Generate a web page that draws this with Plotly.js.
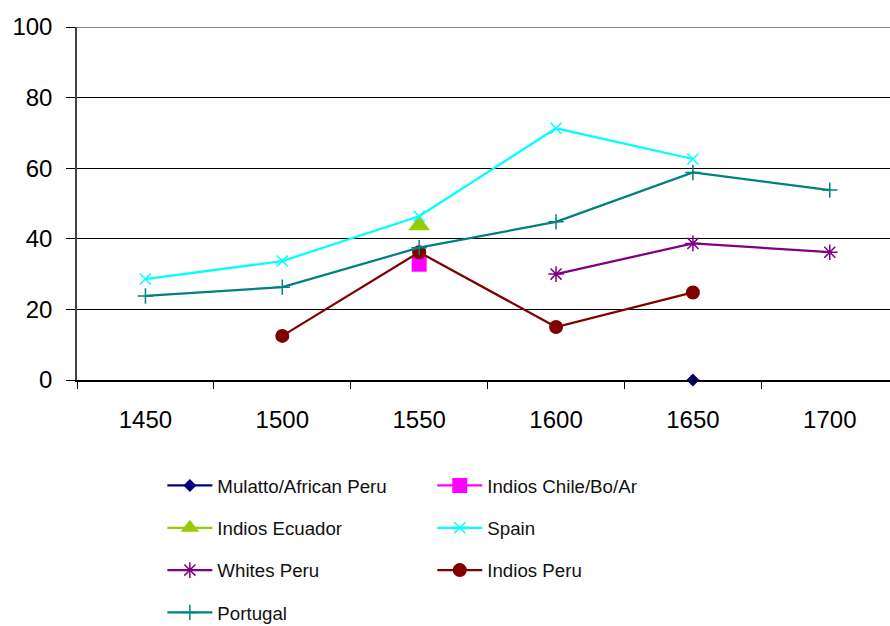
<!DOCTYPE html>
<html>
<head>
<meta charset="utf-8">
<script src="https://cdn.plot.ly/plotly-3.0.1.min.js"></script>
<style>html,body{margin:0;padding:0;overflow:hidden;background:#fff}</style>
</head>
<body>
<div id="chart" style="width:890px;height:626px"></div>
<script>
var years = ['1450', '1500', '1550', '1600', '1650', '1700'];
var mulattoPeru   = [null, null, null, null, 0, null];
var indiosChile   = [null, null, 32.8, null, null, null];
var indiosEcuador = [null, null, 43.8, null, null, null];
var spain         = [28.6, 33.7, 46.4, 71.3, 62.6, null];
var whitesPeru    = [null, null, null, 30.0, 38.7, 36.2];
var indiosPeru    = [null, 12.5, 36.2, 15.0, 24.8, null];
var portugal      = [23.8, 26.3, 37.5, 44.8, 58.8, 53.8];

function tr(name, y, color, symbol, size, legend, lw) {
  return {
    type: 'scatter', mode: 'lines+markers', x: years, y: y, name: name,
    legend: legend, legendgroup: name, cliponaxis: false,
    line: {color: color, width: 2.25},
    marker: {color: color, symbol: symbol, size: size, line: {color: color, width: lw || 0}},
    connectgaps: false, hoverinfo: 'x+y+name'
  };
}

var data = [
  tr('Mulatto/African Peru', mulattoPeru, '#000080', 'diamond', 10, 'legend'),
  tr('Indios Chile/Bo/Ar', indiosChile, '#FF00FF', 'square', 15, 'legend2'),
  tr('Indios Ecuador', indiosEcuador, '#99CC00', 'triangle-up', 19, 'legend'),
  tr('Spain', spain, '#00FFFF', 'x-thin-open', 11, 'legend2', 1.5),
  tr('Whites Peru', whitesPeru, '#800080', 'asterisk-open', 13, 'legend', 1.5),
  tr('Indios Peru', indiosPeru, '#800000', 'circle', 14, 'legend2'),
  tr('Portugal', portugal, '#008080', 'cross-thin-open', 11, 'legend', 1.5)
];

var legendFont = {family: 'Liberation Sans, Arial, sans-serif', size: 18.7, color: '#111'};
var layout = {
  width: 890, height: 626,
  margin: {l: 77, r: 0, t: 27, b: 246, autoexpand: false},
  paper_bgcolor: '#fff', plot_bgcolor: '#fff',
  font: {family: 'Liberation Sans, Arial, sans-serif', color: '#000'},
  showlegend: true,
  xaxis: {
    type: 'category', range: [-0.5, 5.44], tickson: 'boundaries',
    ticks: 'outside', ticklen: 7, tickcolor: '#000', tickwidth: 1.3,
    showgrid: false, showline: true, linecolor: '#000', linewidth: 1.5,
    tickfont: {size: 24, color: '#000'}, ticklabelstandoff: 17,
    zeroline: false, fixedrange: true, automargin: false
  },
  yaxis: {
    range: [0, 100], tickvals: [0, 20, 40, 60, 80, 100],
    ticks: 'outside', ticklen: 9, tickcolor: '#000', tickwidth: 1.3,
    showgrid: true, gridcolor: '#000', gridwidth: 1,
    showline: true, linecolor: '#444', linewidth: 1.5,
    tickfont: {size: 24, color: '#000'}, ticklabelstandoff: 9,
    zeroline: false, fixedrange: true, automargin: false
  },
  shapes: [
    {type: 'line', xref: 'paper', yref: 'y', x0: 0, x1: 1, y0: 100, y1: 100,
     line: {color: '#888', width: 2}, layer: 'above'}
  ],
  legend: {
    orientation: 'v', x: 0.105, xanchor: 'left', y: -0.246, yanchor: 'top',
    font: legendFont, tracegroupgap: 15, itemwidth: 45, bgcolor: 'rgba(0,0,0,0)'
  },
  legend2: {
    orientation: 'v', x: 0.437, xanchor: 'left', y: -0.246, yanchor: 'top',
    font: legendFont, tracegroupgap: 15, itemwidth: 45, bgcolor: 'rgba(0,0,0,0)'
  }
};

Plotly.newPlot('chart', data, layout, {displayModeBar: false});
</script>
</body>
</html>
